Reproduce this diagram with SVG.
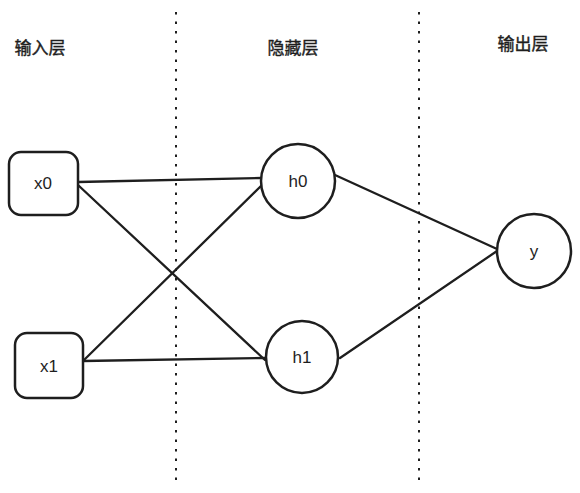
<svg xmlns="http://www.w3.org/2000/svg" width="580" height="493" viewBox="0 0 580 493">
<style>
.node{fill:#fff;stroke:#1e1e1e;stroke-width:2.5}
.edge{stroke:#1e1e1e;stroke-width:2.3;fill:none;stroke-linecap:round}
.sep{stroke:#1e1e1e;stroke-width:2;stroke-dasharray:2.5 7;fill:none}
.lbl{font-family:"Noto Sans CJK SC","Liberation Sans",sans-serif;font-size:17px;fill:#1e1e1e;text-anchor:middle;stroke:#1e1e1e;stroke-width:0.4}
.nt{font-family:"Liberation Sans",sans-serif;font-size:17px;fill:#1e1e1e;text-anchor:middle}
</style>
<rect width="580" height="493" fill="#fff"/>
<g id="separators">
<line class="sep" x1="176" y1="12" x2="176" y2="480"/>
<line class="sep" x1="419" y1="12" x2="419" y2="480"/>
</g>
<g id="layer-labels">
<text class="lbl" x="40" y="54">输入层</text>
<text class="lbl" x="293" y="54">隐藏层</text>
<text class="lbl" x="523" y="50">输出层</text>
</g>
<g id="connectors">
<line class="edge" x1="78" y1="182" x2="261" y2="178"/>
<line class="edge" x1="78" y1="185" x2="265" y2="360"/>
<line class="edge" x1="83" y1="361" x2="263" y2="184"/>
<line class="edge" x1="83" y1="361" x2="265" y2="358"/>
<line class="edge" x1="335" y1="175" x2="497" y2="249"/>
<line class="edge" x1="340" y1="358" x2="497" y2="251"/>
</g>
<g id="x0">
<rect class="node" x="9" y="152" width="69" height="63" rx="12"/>
<text class="nt" x="43" y="189">x0</text>
</g>
<g id="x1">
<rect class="node" x="15" y="333" width="68" height="65" rx="12"/>
<text class="nt" x="49" y="372">x1</text>
</g>
<g id="h0">
<circle class="node" cx="298" cy="181" r="37"/>
<text class="nt" x="298" y="187">h0</text>
</g>
<g id="h1">
<circle class="node" cx="302" cy="357" r="36"/>
<text class="nt" x="302" y="363">h1</text>
</g>
<g id="y">
<circle class="node" cx="534" cy="251" r="37"/>
<text class="nt" x="534" y="257">y</text>
</g>
</svg>
